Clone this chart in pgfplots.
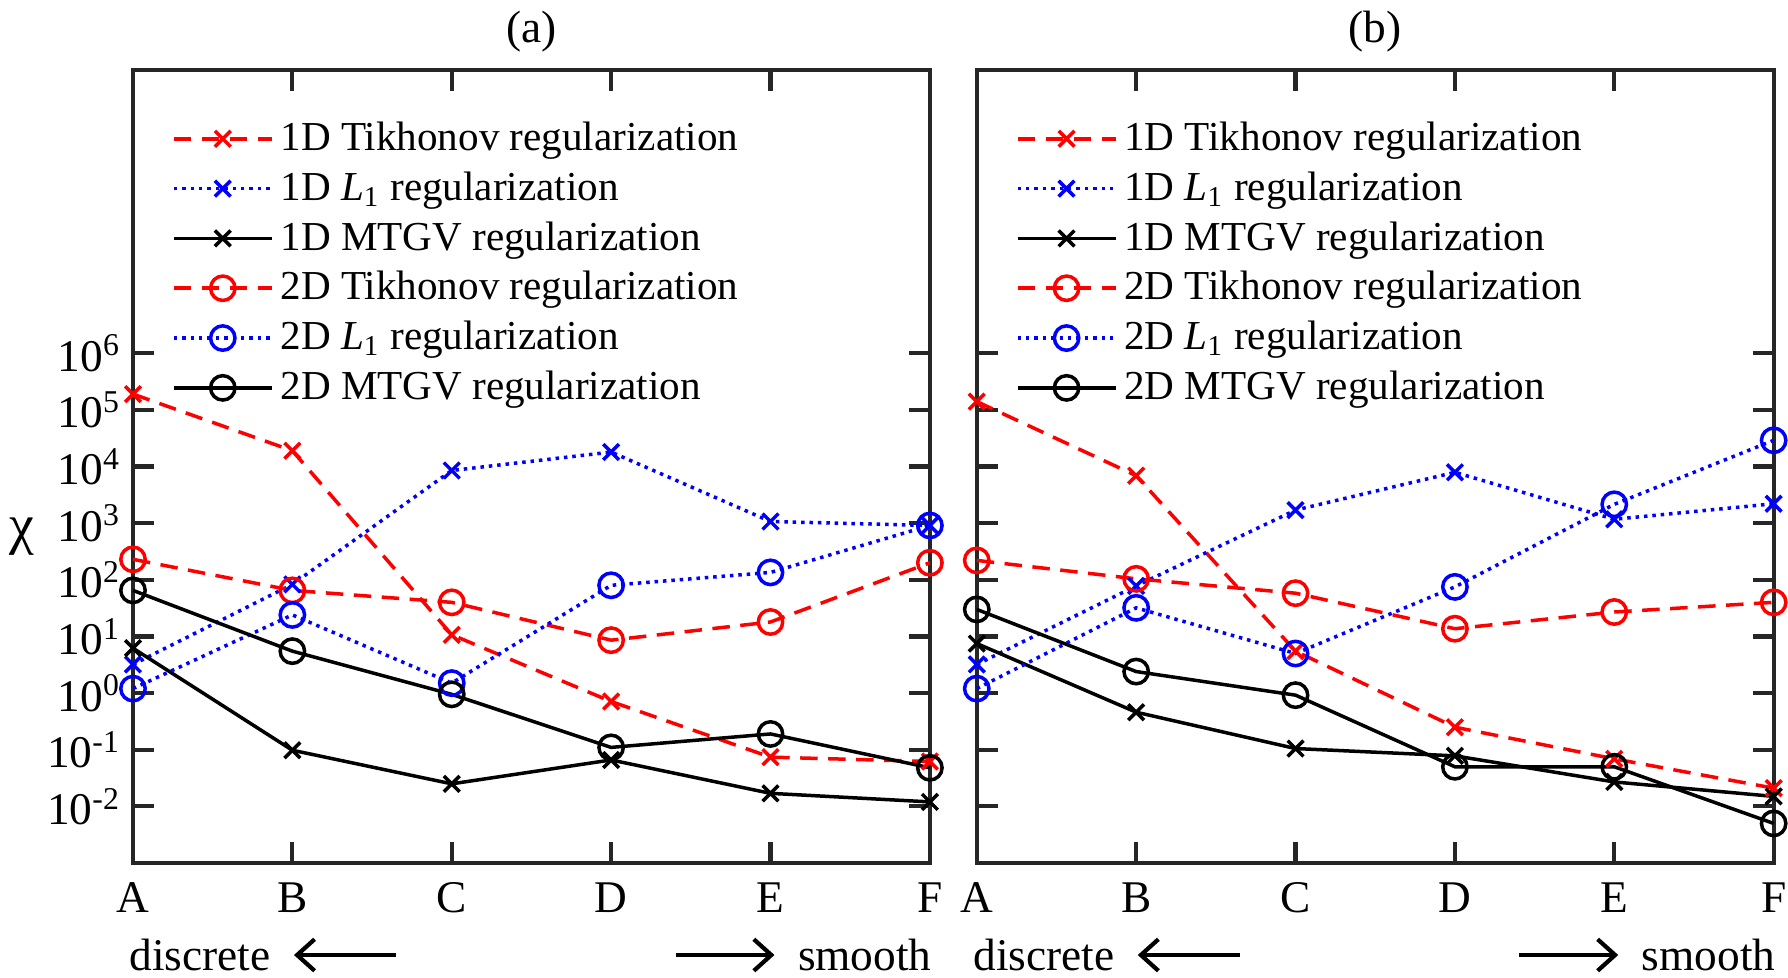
\documentclass[border=0pt]{standalone}
\usepackage{fontspec}
\setmainfont{Liberation Serif}
\usepackage{pgfplots}
\pgfplotsset{compat=1.18}
\usetikzlibrary{arrows.meta}

\pgfplotsset{
  s1/.style={red, line width=1bp, dash pattern=on 5bp off 3bp, mark=x, mark size=3.2pt, mark options={solid}},
  s2/.style={blue, line width=1bp, dash pattern=on 1bp off 1.4bp, mark=x, mark size=3.2pt, mark options={solid}},
  s3/.style={black, line width=1bp, mark=x, mark size=3.2pt, mark options={solid}},
  s4/.style={red, line width=1bp, dash pattern=on 5bp off 3bp, mark=o, mark size=3.5pt, mark options={solid}},
  s5/.style={blue, line width=1bp, dash pattern=on 1bp off 1.4bp, mark=o, mark size=3.5pt, mark options={solid}},
  s6/.style={black, line width=1bp, mark=o, mark size=3.5pt, mark options={solid}},
}

\newcommand{\sidelabels}{%
  \node[anchor=west, inner sep=0pt] at (axis description cs:-0.005,-0.116) {discrete};
  \draw[line width=1.2bp, -{Straight Barb[length=5bp,width=9bp]}]
    (axis description cs:0.330,-0.116) -- (axis description cs:0.202,-0.116);
  \draw[line width=1.2bp, -{Straight Barb[length=5bp,width=9bp]}]
    (axis description cs:0.681,-0.116) -- (axis description cs:0.805,-0.116);
  \node[anchor=east, inner sep=0pt] at (axis description cs:1.003,-0.116) {smooth};
}

\begin{document}
\begin{tikzpicture}[font=\fontsize{13}{15}\selectfont]
% (a)
\begin{axis}[at={(0,0)}, anchor=south west, title={(a)},
    title style={yshift=-4.5bp},
    scale only axis, width=227.7bp, height=226.6bp,
    xmin=0, xmax=5, xtick={0,...,5}, xticklabels={A,B,C,D,E,F},
    ymode=log, ymin=1e-3, ymax=1e11,
    ytick={1e-2,1e-1,1,1e1,1e2,1e3,1e4,1e5,1e6},
    yticklabels={10\textsuperscript{-2},10\textsuperscript{-1},10\textsuperscript{0},10\textsuperscript{1},10\textsuperscript{2},10\textsuperscript{3},10\textsuperscript{4},10\textsuperscript{5},10\textsuperscript{6}},
    yminorticks=false,
    tick align=inside, tick pos=both, major tick length=6bp,
    axis line style={line width=1.2bp, black!85},
    tick style={line width=1.2bp, black!85},
    xticklabel style={yshift=-2bp},
    clip=false,
    legend style={at={(0.035,0.953)}, anchor=north west, draw=none, fill=none,
      row sep=0.6pt, font=\fontsize{11.8}{14}\selectfont},
    legend cell align=left,
    legend image code/.code={\draw[mark repeat=2,mark phase=2,#1]
      plot coordinates {(0bp,0bp) (14bp,0bp) (28bp,0bp)};}]
\addplot[s1] coordinates {(0,1.9e5) (1,1.9e4) (2,10.7) (3,0.71) (4,0.074) (5,0.062)};
\addlegendentry{1D Tikhonov regularization}
\addplot[s2] coordinates {(0,3.2) (1,83) (2,8500) (3,1.8e4) (4,1070) (5,910)};
\addlegendentry{1D \textit{L}\textsubscript{1} regularization}
\addplot[s3] coordinates {(0,6.2) (1,0.098) (2,0.025) (3,0.066) (4,0.017) (5,0.012)};
\addlegendentry{1D MTGV regularization}
\addplot[s4] coordinates {(0,230) (1,65) (2,40) (3,8.6) (4,18) (5,200)};
\addlegendentry{2D Tikhonov regularization}
\addplot[s5] coordinates {(0,1.2) (1,24) (2,1.5) (3,80) (4,135) (5,910)};
\addlegendentry{2D \textit{L}\textsubscript{1} regularization}
\addplot[s6] coordinates {(0,65) (1,5.5) (2,0.95) (3,0.11) (4,0.19) (5,0.048)};
\addlegendentry{2D MTGV regularization}
\node[font=\fontsize{16}{18}\selectfont] at (axis description cs:-0.14,0.412) {χ};
\sidelabels
\end{axis}

% (b)
\begin{axis}[at={(241.1bp,0)}, anchor=south west, title={(b)},
    title style={yshift=-4.5bp},
    scale only axis, width=227.7bp, height=226.6bp,
    xmin=0, xmax=5, xtick={0,...,5}, xticklabels={A,B,C,D,E,F},
    ymode=log, ymin=1e-3, ymax=1e11,
    ytick={1e-2,1e-1,1,1e1,1e2,1e3,1e4,1e5,1e6},
    yticklabels={},
    yminorticks=false,
    tick align=inside, tick pos=both, major tick length=6bp,
    axis line style={line width=1.2bp, black!85},
    tick style={line width=1.2bp, black!85},
    xticklabel style={yshift=-2bp},
    clip=false,
    legend style={at={(0.035,0.953)}, anchor=north west, draw=none, fill=none,
      row sep=0.6pt, font=\fontsize{11.8}{14}\selectfont},
    legend cell align=left,
    legend image code/.code={\draw[mark repeat=2,mark phase=2,#1]
      plot coordinates {(0bp,0bp) (14bp,0bp) (28bp,0bp)};}]
\addplot[s1] coordinates {(0,1.4e5) (1,6900) (2,5.5) (3,0.25) (4,0.069) (5,0.021)};
\addlegendentry{1D Tikhonov regularization}
\addplot[s2] coordinates {(0,3.2) (1,78) (2,1700) (3,7900) (4,1170) (5,2200)};
\addlegendentry{1D \textit{L}\textsubscript{1} regularization}
\addplot[s3] coordinates {(0,7.5) (1,0.46) (2,0.105) (3,0.078) (4,0.027) (5,0.015)};
\addlegendentry{1D MTGV regularization}
\addplot[s4] coordinates {(0,220) (1,104) (2,58) (3,13.7) (4,27) (5,40)};
\addlegendentry{2D Tikhonov regularization}
\addplot[s5] coordinates {(0,1.2) (1,32) (2,5) (3,75) (4,2150) (5,2.9e4)};
\addlegendentry{2D \textit{L}\textsubscript{1} regularization}
\addplot[s6] coordinates {(0,30) (1,2.4) (2,0.92) (3,0.05) (4,0.05) (5,0.005)};
\addlegendentry{2D MTGV regularization}
\sidelabels
\end{axis}

\pgfresetboundingbox
\path[use as bounding box] (-38bp,-32.6bp) rectangle (472.9bp,246.6bp);
\end{tikzpicture}
\end{document}
